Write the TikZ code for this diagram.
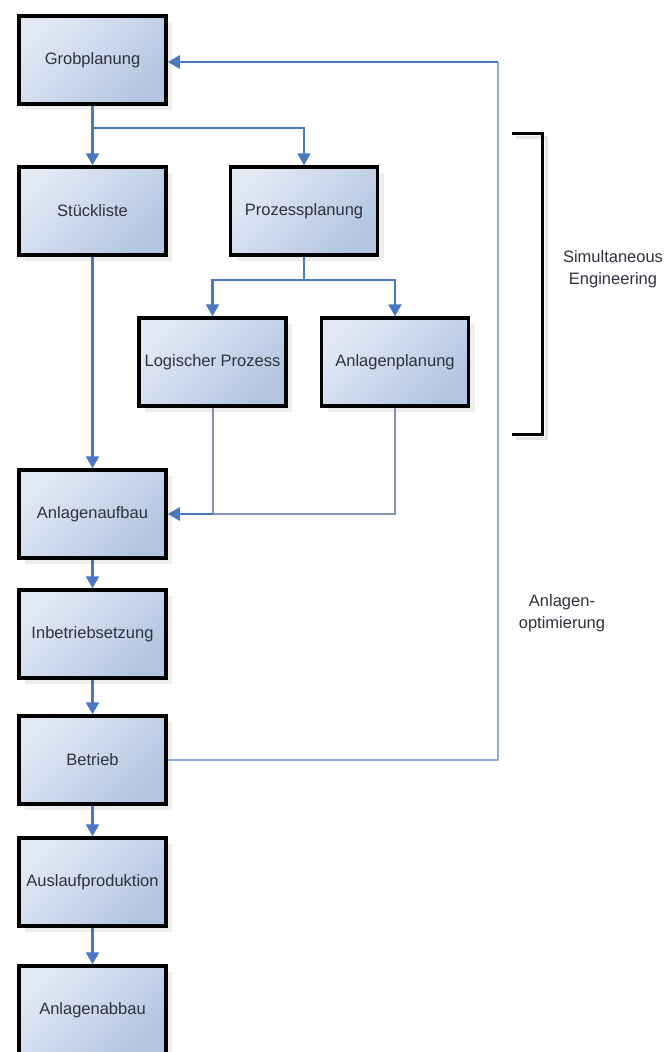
\documentclass[tikz,border=0pt]{standalone}
\usepackage{fontspec}
\setmainfont{Liberation Sans}
\usetikzlibrary{arrows.meta,shadows,calc}
\definecolor{boxtop}{HTML}{E2E9F5}
\definecolor{boxbot}{HTML}{B3C5E1}
\definecolor{arrowblue}{HTML}{4A78C0}
\definecolor{fbblue}{HTML}{8DAED6}
\definecolor{joingray}{HTML}{8492B2}
\definecolor{txtgray}{HTML}{2E323C}
\begin{document}
\begin{tikzpicture}[x=1pt,y=-1pt,
  stepbox/.style={draw=black, line width=3.5pt, minimum width=147pt, minimum height=88pt,
    inner sep=0pt, top color=boxtop, bottom color=boxbot, shading angle=45,
    font=\fontsize{16.5}{19}\selectfont, text=txtgray,
    drop shadow={shadow xshift=6pt, shadow yshift=-6pt, fill=gray!25, opacity=.5}},
  flow/.style={draw=arrowblue, line width=2.4pt, -{Triangle[width=13pt,length=12pt]}},
  flowline/.style={draw=arrowblue, line width=2.4pt},
  joinline/.style={draw=joingray, line width=2pt},
  fbline/.style={draw=fbblue, line width=2.2pt},
  lbl/.style={font=\fontsize{16.5}{22}\selectfont, text=txtgray, align=center}
]
\useasboundingbox (0,0) rectangle (670,1052);
\fill[white] (0,0) rectangle (670,1052);

\node[stepbox] (grob) at (92.5,60) {Grobplanung};
\node[stepbox] (stueck) at (92.5,211) {Stückliste};
\node[stepbox] (prozess) at (304,211) {Prozessplanung};
\node[stepbox] (logisch) at (212.5,362) {Logischer Prozess};
\node[stepbox] (anlplan) at (395,362) {Anlagenplanung};
\node[stepbox] (aufbau) at (92.5,514) {Anlagenaufbau};
\node[stepbox] (inbetr) at (92.5,634) {Inbetriebsetzung};
\node[stepbox] (betrieb) at (92.5,760) {Betrieb};
\node[stepbox] (auslauf) at (92.5,882) {Auslaufproduktion};
\node[stepbox] (abbau) at (92.5,1010) {Anlagenabbau};

\coordinate (b1) at (92.5,128);
\coordinate (b1r) at (304,128);
\coordinate (b2) at (304,280);
\coordinate (b2l) at (212.5,280);
\coordinate (b2r) at (395,280);
\coordinate (j1) at (212.5,514);
\coordinate (j2) at (395,514);
\coordinate (fb1) at (498,760);
\coordinate (fb2) at (498,62);

% Grobplanung branches
\draw[flowline] (grob.south) -- (b1);
\draw[flow] (b1) -- (stueck.north);
\draw[flow] (b1) -- (b1r) -- (prozess.north);
% Prozessplanung branches
\draw[flowline] (prozess.south) -- (b2);
\draw[flow] (b2) -- (b2l) -- (logisch.north);
\draw[flow] (b2) -- (b2r) -- (anlplan.north);
% into Anlagenaufbau
\draw[flow] (stueck.south) -- (aufbau.north);
\draw[joinline] (logisch.south) -- (j1);
\draw[joinline] (anlplan.south) -- (j2) -- (j1);
\draw[flow] (j1) -- (aufbau.east);
% chain
\draw[flow] (aufbau.south) -- (inbetr.north);
\draw[flow] (inbetr.south) -- (betrieb.north);
\draw[flow] (betrieb.south) -- (auslauf.north);
\draw[flow] (auslauf.south) -- (abbau.north);
% feedback
\draw[fbline] (betrieb.east) -- (fb1) -- (fb2);
\draw[flow] (fb2) -- (grob.east |- fb2);

% bracket
\coordinate (br1) at (512,133);
\coordinate (br2) at (542,133);
\coordinate (br3) at (542,434);
\coordinate (br4) at (512,434);
\draw[gray!20, line width=3pt] ($(br1)+(4,4)$) -- ($(br2)+(4,4)$) -- ($(br3)+(4,4)$) -- ($(br4)+(4,4)$);
\draw[black, line width=3pt] (br1) -- (br2) -- (br3) -- (br4);

\node[lbl] (simeng) at (613,269) {Simultaneous\\Engineering};
\node[lbl] (optim) at (562,613) {Anlagen-\\optimierung};
\end{tikzpicture}
\end{document}
